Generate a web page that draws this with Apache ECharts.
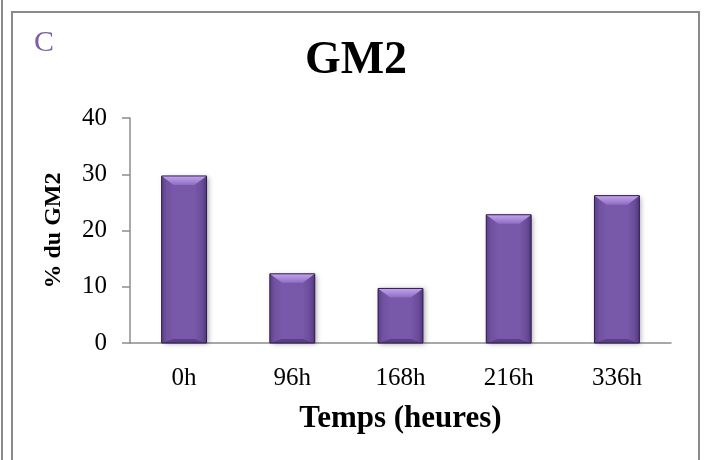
<!DOCTYPE html>
<html><head><meta charset="utf-8">
<script src="https://cdn.jsdelivr.net/npm/echarts@6/dist/echarts.min.js"></script>
<style>html,body{margin:0;padding:0;background:#fff}#c{width:704px;height:460px}</style>
</head><body><div id="c"></div>
<script>
var categories = ['0h', '96h', '168h', '216h', '336h'];
var values = [29.7, 12.3, 9.7, 22.8, 26.2];
var yTicks = [0, 10, 20, 30, 40];

var chart = echarts.init(document.getElementById('c'));
var SERIF = '"Liberation Serif", "Times New Roman", serif';

function renderBar(params, api) {
  var idx = api.value(0);
  var top = api.coord([idx, api.value(1)]);
  var base = api.coord([idx, 0]);
  var w = api.size([1, 0])[0] * 0.415;
  var x0 = top[0] - w / 2, x1 = top[0] + w / 2;
  var y0 = top[1], y1 = base[1];
  var bt = 9, bs = 12, bb = 4;
  return {
    type: 'group',
    children: [
      {type: 'rect', shape: {x: x0, y: y0, width: w, height: y1 - y0},
        style: {fill: '#7858a8',
          shadowColor: 'rgba(0,0,0,0.35)', shadowBlur: 5, shadowOffsetX: 2, shadowOffsetY: 1}},
      {type: 'polygon', shape: {points: [[x0, y0], [x0 + bs, y0 + bt], [x0 + bs, y1 - bb], [x0, y1]]},
        style: {fill: new echarts.graphic.LinearGradient(0, 0, 1, 0, [
          {offset: 0, color: '#5c4088'}, {offset: 0.4, color: '#7052a0'}, {offset: 1, color: '#7858a8'}])}},
      {type: 'polygon', shape: {points: [[x1, y0], [x1 - bs, y0 + bt], [x1 - bs, y1 - bb], [x1, y1]]},
        style: {fill: new echarts.graphic.LinearGradient(1, 0, 0, 0, [
          {offset: 0, color: '#523780'}, {offset: 0.4, color: '#6a4d9a'}, {offset: 1, color: '#7858a8'}])}},
      {type: 'polygon', shape: {points: [[x0, y1], [x0 + bs, y1 - bb], [x1 - bs, y1 - bb], [x1, y1]]},
        style: {fill: '#5a3e86'}},
      {type: 'polygon', shape: {points: [[x0, y0], [x1, y0], [x1 - bs, y0 + bt], [x0 + bs, y0 + bt]]},
        style: {fill: new echarts.graphic.LinearGradient(0, 0, 0, 1, [
          {offset: 0, color: '#c4a4f0'}, {offset: 1, color: '#8e6ec2'}])}},
      {type: 'rect', shape: {x: x0, y: y0, width: w, height: y1 - y0},
        style: {fill: 'none', stroke: '#2e1d4c', lineWidth: 1}}
    ]
  };
}

chart.setOption({
  animation: false,
  graphic: [
    {type: 'line', shape: {x1: 2, y1: 0, x2: 2, y2: 460}, style: {stroke: '#8a8a8a', lineWidth: 2}},
    {type: 'rect', shape: {x: 12, y: 12, width: 687, height: 460}, style: {fill: 'none', stroke: '#8a8a8a', lineWidth: 2}},
    {type: 'text', x: 34, y: 43, style: {text: 'C', font: '30px ' + SERIF, fill: '#7b5fa8', verticalAlign: 'middle'}},
    {type: 'text', x: 356, y: 61, style: {text: 'GM2', font: 'bold 46px ' + SERIF, fill: '#000', align: 'center', verticalAlign: 'middle'}}
  ],
  grid: {left: 130, right: 33, top: 118, bottom: 117},
  xAxis: {
    type: 'category', data: categories,
    name: 'Temps (heures)', nameLocation: 'middle', nameGap: 60,
    nameTextStyle: {fontFamily: SERIF, fontWeight: 'bold', fontSize: 31, color: '#000'},
    axisLine: {lineStyle: {color: '#8c8c8c', width: 1.5}},
    axisTick: {show: false},
    axisLabel: {fontFamily: SERIF, fontSize: 25, color: '#000', margin: 23}
  },
  yAxis: {
    type: 'value', min: yTicks[0], max: yTicks[yTicks.length - 1], interval: 10,
    name: '% du GM2', nameLocation: 'middle', nameGap: 64,
    nameTextStyle: {fontFamily: SERIF, fontWeight: 'bold', fontSize: 24, color: '#000'},
    axisLine: {show: true, lineStyle: {color: '#8c8c8c', width: 1.5}},
    axisTick: {show: true, length: 8, lineStyle: {color: '#8c8c8c', width: 1.5}},
    splitLine: {show: false},
    axisLabel: {fontFamily: SERIF, fontSize: 25, color: '#000', margin: 23}
  },
  series: [{
    type: 'custom', renderItem: renderBar,
    encode: {x: 0, y: 1},
    data: values.map(function (v, i) { return [i, v]; })
  }]
});
</script></body></html>
